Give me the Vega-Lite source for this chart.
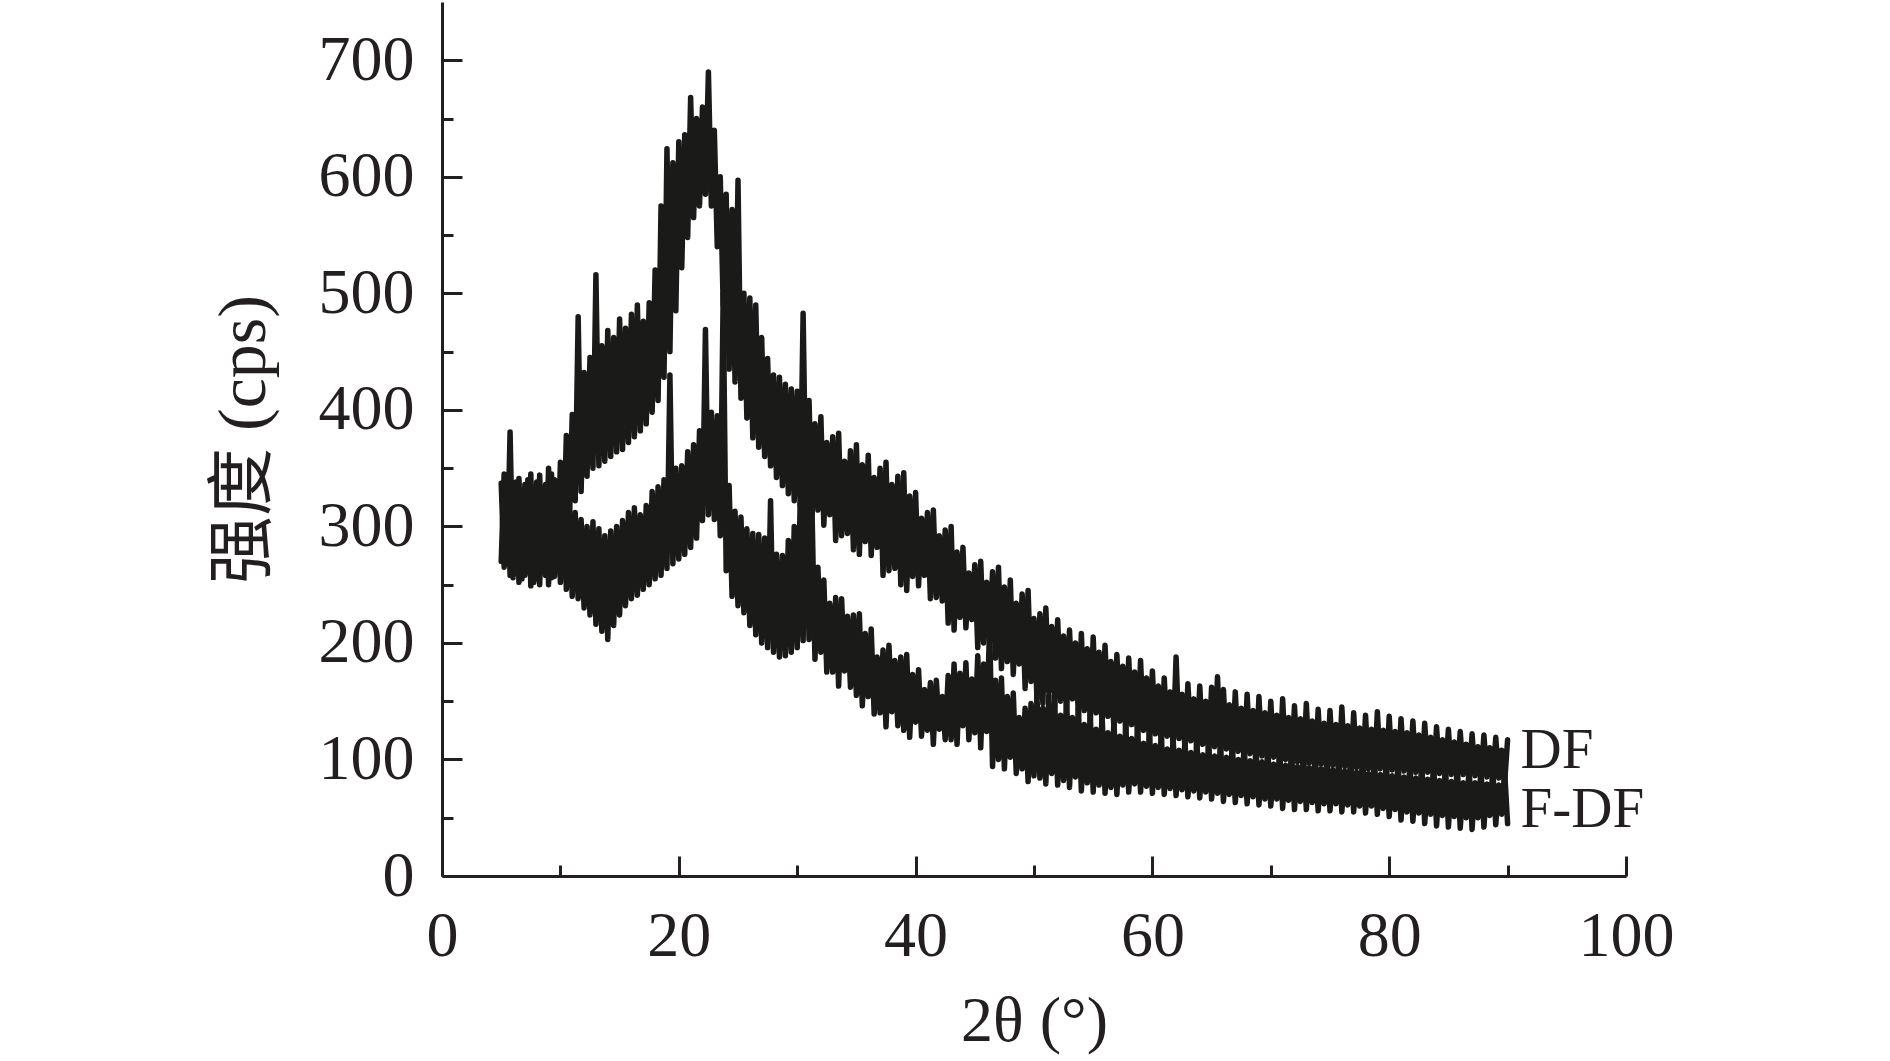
{
"$schema": "https://vega.github.io/schema/vega-lite/v6.json",
"width": 1184, "height": 874,
"autosize": {"type": "none"},
"padding": {"left": 442, "top": 2, "right": 264, "bottom": 185},
"background": "white",
"config": {"view": {"stroke": null},
 "axis": {"grid": false, "domainColor": "#231f20", "domainWidth": 3, "tickColor": "#231f20", "tickWidth": 3, "labelFont": "Liberation Serif", "labelFontSize": 64, "labelColor": "#231f20", "titleFont": "Liberation Serif, Noto Sans CJK SC", "titleFontSize": 64, "titleFontWeight": "normal", "titleColor": "#231f20", "labelFlush": false, "labelOverlap": false, "labelBound": false}},
"layer": [
{"data": {"values": [
{"x":5,"DF":337,"FDF":270},{"x":5.25,"DF":265,"FDF":345},{"x":5.5,"DF":343,"FDF":268},{"x":5.75,"DF":258,"FDF":381},
{"x":6,"DF":330,"FDF":256},{"x":6.25,"DF":260,"FDF":338},{"x":6.5,"DF":341,"FDF":252},{"x":6.75,"DF":255,"FDF":330},
{"x":7,"DF":336,"FDF":258},{"x":7.25,"DF":262,"FDF":340},{"x":7.5,"DF":345,"FDF":249},{"x":7.75,"DF":252,"FDF":326},
{"x":8,"DF":338,"FDF":255},{"x":8.25,"DF":250,"FDF":344},{"x":8.5,"DF":328,"FDF":262},{"x":8.75,"DF":258,"FDF":336},
{"x":9,"DF":350,"FDF":250},{"x":9.25,"DF":256,"FDF":345},{"x":9.5,"DF":340,"FDF":257},{"x":9.75,"DF":262,"FDF":330},
{"x":10,"DF":355,"FDF":252},{"x":10.25,"DF":275,"FDF":338},{"x":10.5,"DF":378,"FDF":246},{"x":10.75,"DF":300,"FDF":320},
{"x":11,"DF":396,"FDF":240},{"x":11.25,"DF":322,"FDF":312},{"x":11.5,"DF":480,"FDF":238},{"x":11.75,"DF":330,"FDF":306},
{"x":12,"DF":432,"FDF":230},{"x":12.25,"DF":343,"FDF":300},{"x":12.5,"DF":445,"FDF":224},{"x":12.75,"DF":350,"FDF":304},
{"x":13,"DF":516,"FDF":216},{"x":13.25,"DF":352,"FDF":298},{"x":13.5,"DF":455,"FDF":210},{"x":13.75,"DF":356,"FDF":292},
{"x":14,"DF":468,"FDF":203},{"x":14.25,"DF":360,"FDF":296},{"x":14.5,"DF":462,"FDF":215},{"x":14.75,"DF":364,"FDF":300},
{"x":15,"DF":478,"FDF":224},{"x":15.25,"DF":366,"FDF":305},{"x":15.5,"DF":470,"FDF":232},{"x":15.75,"DF":372,"FDF":312},
{"x":16,"DF":482,"FDF":238},{"x":16.25,"DF":377,"FDF":316},{"x":16.5,"DF":490,"FDF":241},{"x":16.75,"DF":382,"FDF":310},
{"x":17,"DF":476,"FDF":246},{"x":17.25,"DF":388,"FDF":318},{"x":17.5,"DF":492,"FDF":250},{"x":17.75,"DF":398,"FDF":330},
{"x":18,"DF":520,"FDF":255},{"x":18.25,"DF":408,"FDF":334},{"x":18.5,"DF":575,"FDF":258},{"x":18.75,"DF":428,"FDF":340},
{"x":19,"DF":624,"FDF":264},{"x":19.25,"DF":450,"FDF":430},{"x":19.5,"DF":612,"FDF":268},{"x":19.75,"DF":485,"FDF":350},
{"x":20,"DF":630,"FDF":272},{"x":20.25,"DF":522,"FDF":352},{"x":20.5,"DF":636,"FDF":276},{"x":20.75,"DF":548,"FDF":364},
{"x":21,"DF":668,"FDF":282},{"x":21.25,"DF":565,"FDF":370},{"x":21.5,"DF":650,"FDF":290},{"x":21.75,"DF":575,"FDF":382},
{"x":22,"DF":660,"FDF":305},{"x":22.25,"DF":585,"FDF":469},{"x":22.5,"DF":690,"FDF":310},{"x":22.75,"DF":575,"FDF":398},
{"x":23,"DF":640,"FDF":306},{"x":23.25,"DF":540,"FDF":395},{"x":23.5,"DF":600,"FDF":292},{"x":23.75,"DF":490,"FDF":500},
{"x":24,"DF":585,"FDF":262},{"x":24.25,"DF":435,"FDF":335},{"x":24.5,"DF":572,"FDF":240},{"x":24.75,"DF":424,"FDF":313},
{"x":25,"DF":597,"FDF":232},{"x":25.25,"DF":410,"FDF":308},{"x":25.5,"DF":500,"FDF":226},{"x":25.75,"DF":393,"FDF":298},
{"x":26,"DF":496,"FDF":215},{"x":26.25,"DF":376,"FDF":294},{"x":26.5,"DF":490,"FDF":207},{"x":26.75,"DF":368,"FDF":293},
{"x":27,"DF":462,"FDF":200},{"x":27.25,"DF":360,"FDF":290},{"x":27.5,"DF":444,"FDF":196},{"x":27.75,"DF":352,"FDF":322},
{"x":28,"DF":430,"FDF":192},{"x":28.25,"DF":342,"FDF":276},{"x":28.5,"DF":428,"FDF":188},{"x":28.75,"DF":335,"FDF":275},
{"x":29,"DF":422,"FDF":189},{"x":29.25,"DF":328,"FDF":288},{"x":29.5,"DF":418,"FDF":192},{"x":29.75,"DF":322,"FDF":300},
{"x":30,"DF":416,"FDF":196},{"x":30.25,"DF":318,"FDF":320},{"x":30.5,"DF":483,"FDF":202},{"x":30.75,"DF":312,"FDF":340},
{"x":31,"DF":408,"FDF":203},{"x":31.25,"DF":307,"FDF":315},{"x":31.5,"DF":388,"FDF":186},{"x":31.75,"DF":314,"FDF":265},
{"x":32,"DF":394,"FDF":192},{"x":32.25,"DF":301,"FDF":254},{"x":32.5,"DF":372,"FDF":175},{"x":32.75,"DF":310,"FDF":234},
{"x":33,"DF":377,"FDF":175},{"x":33.25,"DF":288,"FDF":239},{"x":33.5,"DF":380,"FDF":163},{"x":33.75,"DF":292,"FDF":238},
{"x":34,"DF":356,"FDF":176},{"x":34.25,"DF":294,"FDF":223},{"x":34.5,"DF":365,"FDF":162},{"x":34.75,"DF":280,"FDF":224},
{"x":35,"DF":370,"FDF":155},{"x":35.25,"DF":276,"FDF":225},{"x":35.5,"DF":353,"FDF":146},{"x":35.75,"DF":287,"FDF":208},
{"x":36,"DF":361,"FDF":154},{"x":36.25,"DF":275,"FDF":212},{"x":36.5,"DF":342,"FDF":139},{"x":36.75,"DF":282,"FDF":188},
{"x":37,"DF":350,"FDF":140},{"x":37.25,"DF":258,"FDF":194},{"x":37.5,"DF":355,"FDF":128},{"x":37.75,"DF":262,"FDF":198},
{"x":38,"DF":336,"FDF":141},{"x":38.25,"DF":264,"FDF":185},{"x":38.5,"DF":343,"FDF":129},{"x":38.75,"DF":250,"FDF":188},
{"x":39,"DF":346,"FDF":125},{"x":39.25,"DF":245,"FDF":190},{"x":39.5,"DF":326,"FDF":119},{"x":39.75,"DF":257,"FDF":173},
{"x":40,"DF":329,"FDF":132},{"x":40.25,"DF":249,"FDF":177},{"x":40.5,"DF":307,"FDF":120},{"x":40.75,"DF":258,"FDF":160},
{"x":41,"DF":312,"FDF":125},{"x":41.25,"DF":238,"FDF":166},{"x":41.5,"DF":314,"FDF":113},{"x":41.75,"DF":239,"FDF":168},
{"x":42,"DF":292,"FDF":126},{"x":42.25,"DF":236,"FDF":154},{"x":42.5,"DF":297,"FDF":117},{"x":42.75,"DF":217,"FDF":172},
{"x":43,"DF":300,"FDF":117},{"x":43.25,"DF":211,"FDF":182},{"x":43.5,"DF":278,"FDF":113},{"x":43.75,"DF":222,"FDF":174},
{"x":44,"DF":282,"FDF":129},{"x":44.25,"DF":213,"FDF":183},{"x":44.5,"DF":260,"FDF":117},{"x":44.75,"DF":220,"FDF":169},
{"x":45,"DF":267,"FDF":123},{"x":45.25,"DF":196,"FDF":189},{"x":45.5,"DF":270,"FDF":110},{"x":45.75,"DF":200,"FDF":182},
{"x":46,"DF":252,"FDF":124},{"x":46.25,"DF":202,"FDF":215},{"x":46.5,"DF":261,"FDF":94},{"x":46.75,"DF":187,"FDF":168},
{"x":47,"DF":265,"FDF":100},{"x":47.25,"DF":178,"FDF":170},{"x":47.5,"DF":248,"FDF":92},{"x":47.75,"DF":184,"FDF":154},
{"x":48,"DF":254,"FDF":102},{"x":48.25,"DF":173,"FDF":157},{"x":48.5,"DF":234,"FDF":88},{"x":48.75,"DF":182,"FDF":136},
{"x":49,"DF":242,"FDF":92},{"x":49.25,"DF":161,"FDF":144},{"x":49.5,"DF":245,"FDF":81},{"x":49.75,"DF":167,"FDF":148},
{"x":50,"DF":221,"FDF":86},{"x":50.25,"DF":152,"FDF":154},{"x":50.5,"DF":225,"FDF":84},{"x":50.75,"DF":148,"FDF":144},
{"x":51,"DF":230,"FDF":79},{"x":51.25,"DF":158,"FDF":155},{"x":51.5,"DF":214,"FDF":88},{"x":51.75,"DF":145,"FDF":149},
{"x":52,"DF":220,"FDF":78},{"x":52.25,"DF":150,"FDF":138},{"x":52.5,"DF":206,"FDF":82},{"x":52.75,"DF":143,"FDF":153},
{"x":53,"DF":211,"FDF":76},{"x":53.25,"DF":152,"FDF":136},{"x":53.5,"DF":200,"FDF":85},{"x":53.75,"DF":137,"FDF":144},
{"x":54,"DF":208,"FDF":73},{"x":54.25,"DF":142,"FDF":130},{"x":54.5,"DF":195,"FDF":80},{"x":54.75,"DF":132,"FDF":139},
{"x":55,"DF":205,"FDF":72},{"x":55.25,"DF":140,"FDF":126},{"x":55.5,"DF":192,"FDF":78},{"x":55.75,"DF":129,"FDF":138},
{"x":56,"DF":198,"FDF":71},{"x":56.25,"DF":137,"FDF":123},{"x":56.5,"DF":184,"FDF":76},{"x":56.75,"DF":126,"FDF":133},
{"x":57,"DF":190,"FDF":70},{"x":57.25,"DF":133,"FDF":120},{"x":57.5,"DF":180,"FDF":78},{"x":57.75,"DF":122,"FDF":129},
{"x":58,"DF":187,"FDF":72},{"x":58.25,"DF":130,"FDF":118},{"x":58.5,"DF":175,"FDF":79},{"x":58.75,"DF":118,"FDF":126},
{"x":59,"DF":185,"FDF":72},{"x":59.25,"DF":125,"FDF":114},{"x":59.5,"DF":170,"FDF":77},{"x":59.75,"DF":116,"FDF":124},
{"x":60,"DF":176,"FDF":71},{"x":60.25,"DF":122,"FDF":112},{"x":60.5,"DF":163,"FDF":76},{"x":60.75,"DF":113,"FDF":121},
{"x":61,"DF":170,"FDF":70},{"x":61.25,"DF":120,"FDF":109},{"x":61.5,"DF":158,"FDF":75},{"x":61.75,"DF":111,"FDF":118},
{"x":62,"DF":188,"FDF":69},{"x":62.25,"DF":118,"FDF":108},{"x":62.5,"DF":156,"FDF":74},{"x":62.75,"DF":109,"FDF":116},
{"x":63,"DF":165,"FDF":68},{"x":63.25,"DF":116,"FDF":106},{"x":63.5,"DF":152,"FDF":73},{"x":63.75,"DF":107,"FDF":115},
{"x":64,"DF":163,"FDF":67},{"x":64.25,"DF":113,"FDF":104},{"x":64.5,"DF":150,"FDF":72},{"x":64.75,"DF":105,"FDF":114},
{"x":65,"DF":162,"FDF":66},{"x":65.25,"DF":111,"FDF":103},{"x":65.5,"DF":171,"FDF":71},{"x":65.75,"DF":103,"FDF":112},
{"x":66,"DF":160,"FDF":64},{"x":66.25,"DF":109,"FDF":102},{"x":66.5,"DF":147,"FDF":70},{"x":66.75,"DF":101,"FDF":111},
{"x":67,"DF":158,"FDF":63},{"x":67.25,"DF":107,"FDF":100},{"x":67.5,"DF":144,"FDF":69},{"x":67.75,"DF":99,"FDF":112},
{"x":68,"DF":156,"FDF":62},{"x":68.25,"DF":105,"FDF":99},{"x":68.5,"DF":142,"FDF":68},{"x":68.75,"DF":97,"FDF":109},
{"x":69,"DF":154,"FDF":61},{"x":69.25,"DF":103,"FDF":98},{"x":69.5,"DF":140,"FDF":66},{"x":69.75,"DF":95,"FDF":108},
{"x":70,"DF":150,"FDF":60},{"x":70.25,"DF":102,"FDF":96},{"x":70.5,"DF":138,"FDF":66},{"x":70.75,"DF":94,"FDF":107},
{"x":71,"DF":152,"FDF":58},{"x":71.25,"DF":100,"FDF":95},{"x":71.5,"DF":136,"FDF":65},{"x":71.75,"DF":92,"FDF":106},
{"x":72,"DF":146,"FDF":57},{"x":72.25,"DF":98,"FDF":94},{"x":72.5,"DF":135,"FDF":64},{"x":72.75,"DF":91,"FDF":105},
{"x":73,"DF":148,"FDF":57},{"x":73.25,"DF":97,"FDF":93},{"x":73.5,"DF":133,"FDF":63},{"x":73.75,"DF":90,"FDF":104},
{"x":74,"DF":143,"FDF":56},{"x":74.25,"DF":96,"FDF":92},{"x":74.5,"DF":131,"FDF":62},{"x":74.75,"DF":89,"FDF":103},
{"x":75,"DF":142,"FDF":56},{"x":75.25,"DF":95,"FDF":91},{"x":75.5,"DF":130,"FDF":62},{"x":75.75,"DF":89,"FDF":102},
{"x":76,"DF":145,"FDF":55},{"x":76.25,"DF":94,"FDF":90},{"x":76.5,"DF":129,"FDF":61},{"x":76.75,"DF":88,"FDF":101},
{"x":77,"DF":140,"FDF":55},{"x":77.25,"DF":93,"FDF":89},{"x":77.5,"DF":127,"FDF":60},{"x":77.75,"DF":87,"FDF":100},
{"x":78,"DF":138,"FDF":54},{"x":78.25,"DF":92,"FDF":88},{"x":78.5,"DF":126,"FDF":60},{"x":78.75,"DF":87,"FDF":99},
{"x":79,"DF":141,"FDF":53},{"x":79.25,"DF":92,"FDF":87},{"x":79.5,"DF":125,"FDF":58},{"x":79.75,"DF":86,"FDF":98},
{"x":80,"DF":137,"FDF":51},{"x":80.25,"DF":91,"FDF":86},{"x":80.5,"DF":124,"FDF":57},{"x":80.75,"DF":86,"FDF":97},
{"x":81,"DF":135,"FDF":48},{"x":81.25,"DF":90,"FDF":85},{"x":81.5,"DF":123,"FDF":55},{"x":81.75,"DF":86,"FDF":96},
{"x":82,"DF":133,"FDF":47},{"x":82.25,"DF":89,"FDF":84},{"x":82.5,"DF":121,"FDF":54},{"x":82.75,"DF":85,"FDF":96},
{"x":83,"DF":131,"FDF":45},{"x":83.25,"DF":89,"FDF":83},{"x":83.5,"DF":119,"FDF":53},{"x":83.75,"DF":84,"FDF":95},
{"x":84,"DF":128,"FDF":43},{"x":84.25,"DF":88,"FDF":82},{"x":84.5,"DF":117,"FDF":52},{"x":84.75,"DF":84,"FDF":94},
{"x":85,"DF":126,"FDF":42},{"x":85.25,"DF":87,"FDF":81},{"x":85.5,"DF":115,"FDF":51},{"x":85.75,"DF":83,"FDF":94},
{"x":86,"DF":124,"FDF":41},{"x":86.25,"DF":87,"FDF":80},{"x":86.5,"DF":113,"FDF":50},{"x":86.75,"DF":82,"FDF":93},
{"x":87,"DF":122,"FDF":40},{"x":87.25,"DF":86,"FDF":80},{"x":87.5,"DF":111,"FDF":50},{"x":87.75,"DF":82,"FDF":92},
{"x":88,"DF":121,"FDF":42},{"x":88.25,"DF":85,"FDF":79},{"x":88.5,"DF":110,"FDF":52},{"x":88.75,"DF":81,"FDF":91},
{"x":89,"DF":119,"FDF":44},{"x":89.25,"DF":84,"FDF":78},{"x":89.5,"DF":108,"FDF":53},{"x":89.75,"DF":80,"FDF":90},
{"x":90,"DF":117,"FDF":45}
]},
"transform": [{"fold": ["DF", "FDF"], "as": ["series", "intensity"]}],
"mark": {"type": "line", "color": "#1a1b19", "strokeWidth": 5.5, "strokeJoin": "round", "strokeCap": "round"},
"encoding": {
 "x": {"field": "x", "type": "quantitative", "scale": {"domain": [0, 100], "nice": false},
  "axis": {"orient": "bottom", "values": [0,10,20,30,40,50,60,70,80,90,100], "labelExpr": "datum.value % 20 === 0 ? datum.label : ''", "tickSize": {"condition": {"test": "datum.value % 20 === 0", "value": -20}, "value": -11}, "labelPadding": 48, "title": "2θ (°)", "titlePadding": 12}},
 "y": {"field": "intensity", "type": "quantitative", "scale": {"domain": [0, 750], "nice": false},
  "axis": {"orient": "left", "values": [0,50,100,150,200,250,300,350,400,450,500,550,600,650,700], "labelExpr": "datum.value % 100 === 0 ? datum.label : ''", "tickSize": {"condition": {"test": "datum.value % 100 === 0", "value": -20}, "value": -11}, "labelPadding": 48, "title": "强度 (cps)", "titlePadding": 40, "titleFontSize": 68}},
 "detail": {"field": "series"}
}},
{"data": {"values": [{"x": 91.1, "y": 92.6, "t": "DF"}, {"x": 91.1, "y": 42, "t": "F-DF"}]},
 "mark": {"type": "text", "align": "left", "baseline": "alphabetic", "font": "Liberation Serif", "fontSize": 57, "color": "#231f20"},
 "encoding": {"x": {"field": "x", "type": "quantitative"}, "y": {"field": "y", "type": "quantitative"}, "text": {"field": "t"}}}
]
}
